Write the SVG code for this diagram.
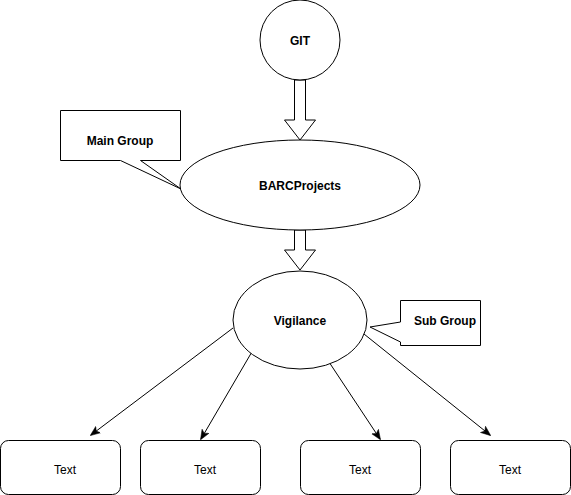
<svg xmlns="http://www.w3.org/2000/svg" width="571" height="495" viewBox="0 0 571 495">
<style>
.s{fill:#fff;stroke:#000;stroke-width:1}
.b{font-family:"Liberation Sans",Arial,sans-serif;font-size:12px;font-weight:bold;fill:#000;text-anchor:middle;dominant-baseline:central}
.t{font-family:"Liberation Sans",Arial,sans-serif;font-size:12px;fill:#000;text-anchor:middle;dominant-baseline:central}
.e{fill:none;stroke:#000;stroke-width:1}
</style>
<defs>
<marker id="ah" viewBox="0 0 10 10" refX="9" refY="5" markerWidth="10" markerHeight="10" markerUnits="userSpaceOnUse" orient="auto">
<path d="M0,1 L10,5 L0,9 L2.5,5 Z" fill="#000" stroke="#000" stroke-width="0.5"/>
</marker>
</defs>
<rect width="571" height="495" fill="#fff"/>
<g id="connectors">
<path class="s" d="M294.5,80 L305.5,80 L305.5,120 L315.5,120 L300,140 L284.5,120 L294.5,120 Z"/>
<path class="s" d="M294.5,230 L305.5,230 L305.5,250 L315.5,250 L300,270 L284.5,250 L294.5,250 Z"/>
<line class="e" x1="233" y1="328" x2="91" y2="435" marker-end="url(#ah)"/>
<line class="e" x1="253" y1="350" x2="201" y2="439" marker-end="url(#ah)"/>
<line class="e" x1="329" y1="362" x2="380" y2="439" marker-end="url(#ah)"/>
<line class="e" x1="364" y1="334" x2="490" y2="435" marker-end="url(#ah)"/>
</g>
<g id="git">
<circle class="s" cx="300" cy="40" r="40"/>
<text class="b" x="300" y="41">GIT</text>
</g>
<g id="barc">
<ellipse class="s" cx="300" cy="185" rx="120" ry="45"/>
<text class="b" x="300" y="186">BARCProjects</text>
</g>
<g id="vigilance">
<ellipse class="s" cx="300" cy="320" rx="67" ry="49"/>
<text class="b" x="300" y="321">Vigilance</text>
</g>
<g id="maingroup">
<path class="s" d="M60.5,110.5 L180.5,110.5 L180.5,160.5 L140.5,160.5 L181,189 L120.5,160.5 L60.5,160.5 Z"/>
<text class="b" x="120" y="141">Main Group</text>
</g>
<g id="subgroup">
<path class="s" d="M400.5,300.5 L480.5,300.5 L480.5,345.5 L400.5,345.5 L400.5,342 L370,327 L400.5,322 Z"/>
<text class="b" x="445" y="321">Sub Group</text>
</g>
<g id="text1">
<rect class="s" x="0.5" y="440.5" width="120" height="54" rx="8"/>
<text class="t" x="65" y="470">Text</text>
</g>
<g id="text2">
<rect class="s" x="140.5" y="440.5" width="120" height="54" rx="8"/>
<text class="t" x="205" y="470">Text</text>
</g>
<g id="text3">
<rect class="s" x="300.5" y="440.5" width="120" height="54" rx="8"/>
<text class="t" x="360" y="470">Text</text>
</g>
<g id="text4">
<rect class="s" x="450.5" y="440.5" width="120" height="54" rx="8"/>
<text class="t" x="510" y="470">Text</text>
</g>
</svg>
